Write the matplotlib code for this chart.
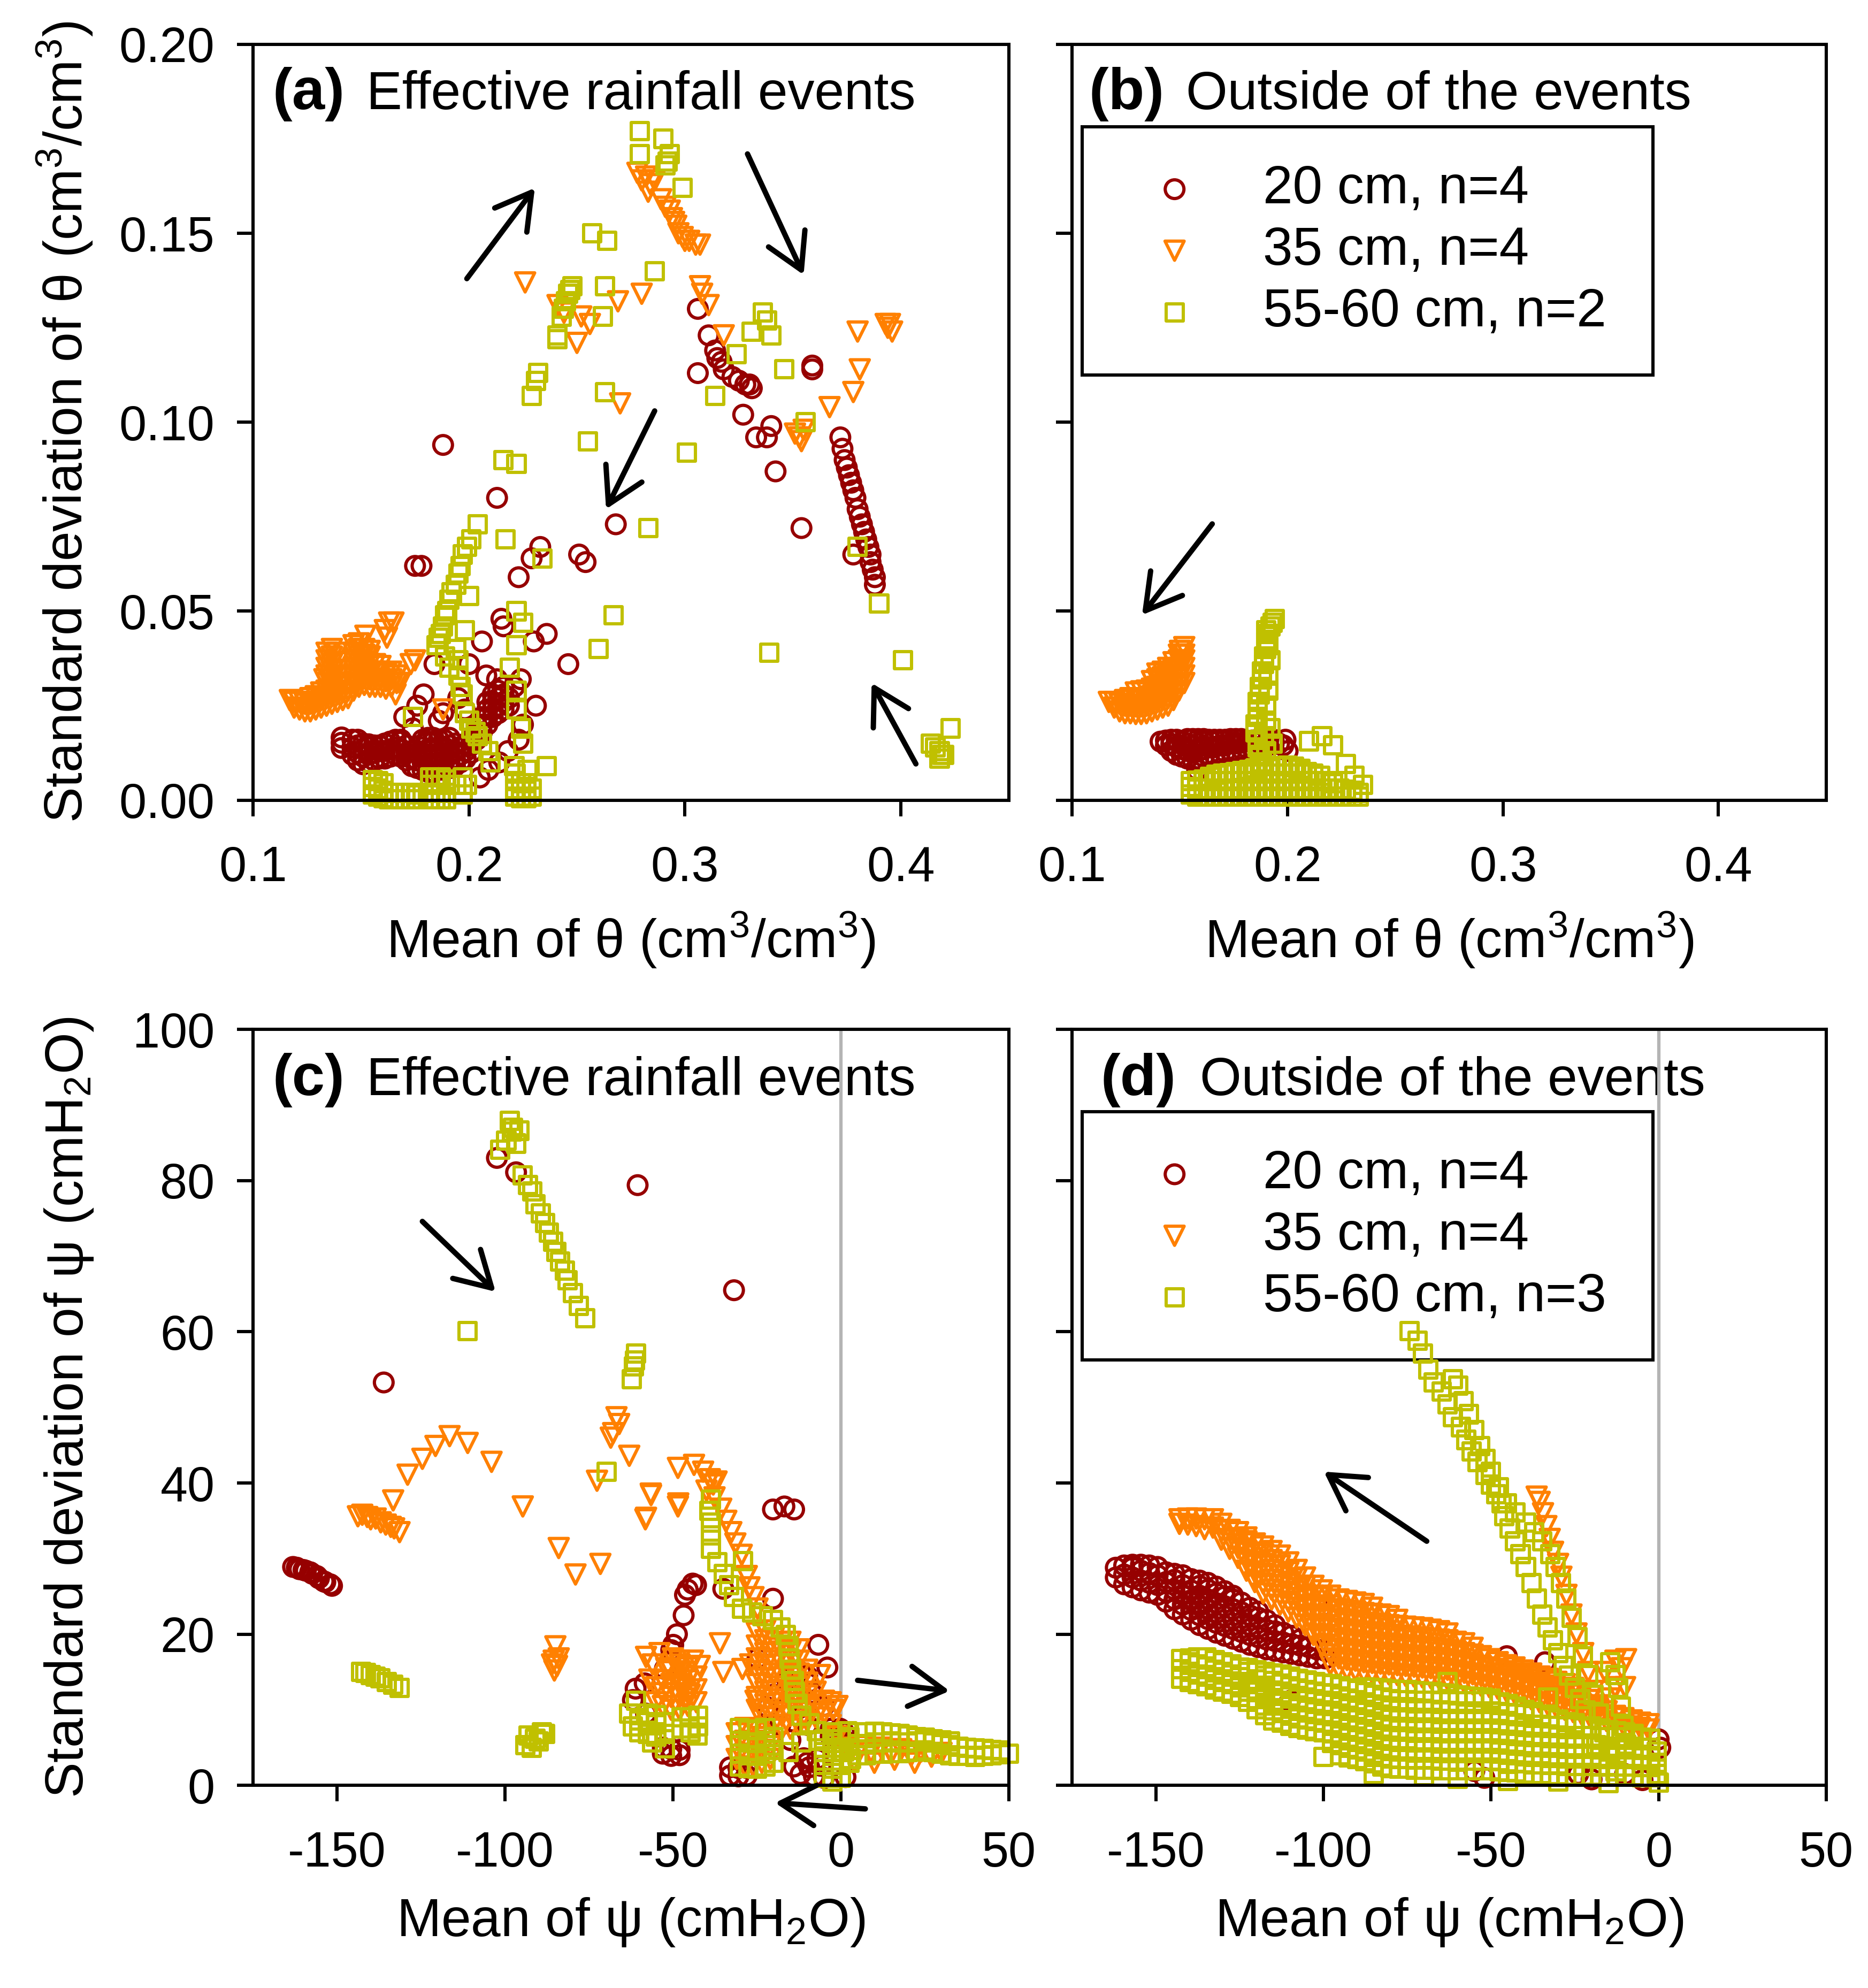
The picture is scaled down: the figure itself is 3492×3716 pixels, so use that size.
import matplotlib
matplotlib.use('Agg')
import matplotlib.pyplot as plt
import numpy as np

plt.rcParams['font.family'] = ['Liberation Sans', 'DejaVu Sans']
plt.rcParams['mathtext.fontset'] = 'custom'
plt.rcParams['mathtext.rm'] = 'Liberation Sans'
plt.rcParams['mathtext.it'] = 'Liberation Sans:italic'
plt.rcParams['mathtext.bf'] = 'Liberation Sans:bold'
plt.rcParams['axes.unicode_minus'] = False

# ---------------- data ----------------
depth_labels = ['20 cm', '35 cm', '55-60 cm']
n_theta = [4, 4, 2]
n_psi = [4, 4, 3]

theta_ticks_x = [0.1, 0.2, 0.3, 0.4]
theta_ticks_y = [0.00, 0.05, 0.10, 0.15, 0.20]
psi_ticks_x = [-150, -100, -50, 0, 50]
psi_ticks_y = [0, 20, 40, 60, 80, 100]

# Sparse points are (x, y); dense clusters are read column by column as (x, [y, y, ...]).

# (a) theta, effective rainfall events
a_20 = [(0.306,0.130),(0.311,0.123),(0.314,0.119),(0.315,0.117),(0.317,0.116),(0.318,0.114),(0.306,0.113),
        (0.322,0.112),(0.325,0.111),(0.328,0.110),(0.330,0.110),(0.331,0.109),(0.359,0.115),(0.359,0.114),
        (0.327,0.102),(0.333,0.096),(0.338,0.096),(0.340,0.099),(0.342,0.087),(0.354,0.072),
        (0.372,0.096),(0.373,0.093),(0.374,0.090),(0.375,0.088),(0.376,0.086),(0.377,0.084),(0.378,0.082),
        (0.379,0.080),(0.380,0.077),(0.381,0.075),(0.382,0.073),(0.383,0.071),(0.384,0.069),(0.385,0.067),
        (0.386,0.065),(0.386,0.063),(0.387,0.061),(0.388,0.059),(0.388,0.057),(0.378,0.065),
        (0.188,0.094),(0.213,0.080),(0.175,0.062),(0.178,0.062),(0.233,0.067),(0.251,0.065),(0.254,0.063),
        (0.268,0.073),(0.229,0.064),(0.223,0.059),(0.215,0.048),(0.216,0.046),(0.230,0.042),(0.236,0.044),
        (0.206,0.042),(0.184,0.036),(0.246,0.036),(0.231,0.025),(0.179,0.028),(0.200,0.036),(0.208,0.033),
        (0.224,0.032),(0.221,0.030),(0.213,0.032),(0.141,0.0166),(0.141,0.0152),(0.141,0.0138),
        (0.170,0.022),(0.174,0.019),(0.186,0.021),(0.188,0.023),(0.176,0.025),(0.195,0.027),
        (0.198,0.024),(0.225,0.020),(0.223,0.016),(0.218,0.013),(0.214,0.010),(0.205,0.006),(0.209,0.008)]
a_20_dense = [(0.146,[0.012,0.014,0.016]),(0.1485,[0.0105,0.0125,0.0145,0.016]),
              (0.151,[0.0095,0.0115,0.0135,0.015]),(0.1535,[0.010,0.012,0.014,0.0148]),
              (0.156,[0.0105,0.0125,0.0145]),(0.1585,[0.011,0.013,0.0145]),(0.161,[0.011,0.013,0.015]),
              (0.1635,[0.0115,0.0135,0.0155]),(0.166,[0.012,0.014,0.016]),(0.1685,[0.0115,0.0135,0.0155,0.016]),
              (0.171,[0.0105,0.0125,0.0145]),(0.1735,[0.009,0.011,0.013]),(0.176,[0.0085,0.0105,0.0125]),
              (0.1785,[0.008,0.010,0.012,0.014,0.016]),(0.181,[0.0075,0.0095,0.0115,0.0135,0.0155,0.0165]),
              (0.1835,[0.0075,0.0095,0.0115,0.0135,0.0155,0.0165]),(0.186,[0.008,0.010,0.012,0.014,0.016]),
              (0.1885,[0.008,0.010,0.012,0.014,0.016]),(0.191,[0.0085,0.0105,0.0125,0.0145,0.0165]),
              (0.1935,[0.009,0.011,0.013,0.015]),(0.196,[0.010,0.012,0.014]),(0.1985,[0.011,0.013,0.015]),
              (0.201,[0.0125,0.0145,0.0165]),(0.2035,[0.016,0.018,0.020]),(0.206,[0.018,0.020,0.022]),
              (0.2085,[0.020,0.022,0.024,0.026]),(0.211,[0.022,0.024,0.026,0.028]),
              (0.2135,[0.023,0.025,0.027,0.029]),(0.216,[0.024,0.026,0.028,0.030]),(0.2185,[0.025,0.027])]

a_35 = [(0.278,0.166),(0.280,0.164),(0.282,0.165),(0.284,0.163),(0.286,0.164),(0.283,0.161),(0.289,0.159),
        (0.291,0.157),(0.293,0.156),(0.294,0.154),(0.295,0.153),(0.296,0.152),(0.297,0.150),(0.299,0.149),
        (0.300,0.148),(0.302,0.148),(0.305,0.147),(0.307,0.147),
        (0.226,0.137),(0.269,0.132),(0.280,0.134),(0.307,0.136),(0.308,0.134),(0.311,0.131),(0.241,0.131),
        (0.244,0.129),(0.252,0.128),(0.256,0.126),(0.250,0.121),(0.318,0.123),(0.380,0.124),(0.393,0.126),
        (0.394,0.125),(0.395,0.126),(0.396,0.124),(0.381,0.114),(0.378,0.108),(0.367,0.104),(0.270,0.105),
        (0.351,0.097),(0.353,0.096),(0.354,0.095),(0.355,0.098),
        (0.161,0.045),(0.163,0.047),(0.165,0.047),(0.162,0.043),(0.173,0.036),(0.175,0.037),(0.133,0.032),
        (0.136,0.032),(0.166,0.028),(0.168,0.031),(0.188,0.024),(0.117,0.0265),(0.152,0.0435)]
a_35_dense = [(0.119,[0.0245,0.026]),(0.1215,[0.024,0.026]),(0.124,[0.0235,0.0255]),
              (0.1265,[0.0235,0.0255,0.027]),(0.129,[0.024,0.026,0.0275]),(0.1315,[0.0245,0.0265,0.0285]),
              (0.134,[0.025,0.027,0.029,0.031,0.033,0.035,0.037,0.039]),
              (0.1365,[0.0255,0.0275,0.0295,0.032,0.034,0.036,0.038,0.040]),
              (0.139,[0.026,0.028,0.030,0.0325,0.0345,0.0365,0.039]),(0.1415,[0.0265,0.0285,0.031,0.033]),
              (0.144,[0.027,0.029,0.031]),(0.1465,[0.029,0.031,0.033,0.035,0.037,0.039,0.041]),
              (0.149,[0.030,0.032,0.034,0.036,0.038,0.040,0.0415]),
              (0.1515,[0.0305,0.0325,0.0345,0.0365,0.0385,0.040]),
              (0.154,[0.030,0.032,0.034,0.036,0.038,0.0395]),(0.1565,[0.030,0.032,0.034,0.036]),
              (0.159,[0.030,0.032,0.034,0.0355]),(0.1615,[0.0295,0.0315,0.0335]),(0.164,[0.030,0.032,0.034]),
              (0.1665,[0.031,0.033])]

a_55 = [(0.279,0.177),(0.290,0.175),(0.293,0.171),(0.292,0.169),(0.291,0.168),(0.279,0.171),(0.299,0.162),
        (0.257,0.150),(0.264,0.148),(0.286,0.140),(0.248,0.136),(0.247,0.135),(0.246,0.134),(0.245,0.132),
        (0.244,0.130),(0.243,0.128),(0.263,0.136),(0.262,0.128),(0.241,0.123),(0.241,0.122),(0.336,0.129),
        (0.338,0.127),(0.340,0.123),(0.331,0.124),(0.324,0.118),(0.346,0.114),(0.232,0.113),(0.231,0.111),
        (0.229,0.107),(0.263,0.108),(0.314,0.107),(0.356,0.100),(0.255,0.095),(0.301,0.092),(0.216,0.090),
        (0.222,0.089),
        (0.204,0.073),(0.201,0.069),(0.199,0.067),(0.197,0.065),(0.196,0.062),(0.195,0.060),(0.194,0.057),
        (0.192,0.055),(0.191,0.053),(0.190,0.050),(0.189,0.049),(0.188,0.046),(0.187,0.044),(0.185,0.041),
        (0.217,0.069),(0.234,0.064),(0.200,0.054),(0.283,0.072),(0.267,0.049),(0.260,0.040),(0.339,0.039),
        (0.401,0.037),(0.390,0.052),(0.380,0.067),(0.222,0.050),(0.225,0.047),(0.222,0.041),(0.219,0.035),
        (0.222,0.029),(0.222,0.024),(0.224,0.019),(0.225,0.015),
        (0.198,0.045),(0.194,0.040),(0.195,0.037),(0.195,0.033),(0.196,0.030),(0.197,0.028),(0.198,0.023),
        (0.200,0.021),(0.201,0.019),(0.203,0.018),(0.204,0.017),(0.206,0.015),(0.209,0.013),(0.210,0.010),
        (0.197,0.006),(0.194,0.004),(0.174,0.022),(0.186,0.043),(0.189,0.038),(0.191,0.035),
        (0.414,0.015),(0.416,0.014),(0.418,0.013),(0.419,0.012),(0.418,0.011),(0.420,0.012),(0.423,0.019),
        (0.236,0.009),(0.227,0.008),(0.221,0.009),(0.197,0.0015),(0.199,0.004)]
a_55_dense = [(0.1555,[0.0015,0.0035,0.0053]),(0.158,[0.001,0.003,0.005]),(0.1605,[0.0005,0.0025,0.0045]),
              (0.163,[0.0003,0.002]),(0.1655,[0.0003,0.002]),(0.168,[0.0003,0.002]),(0.1705,[0.0003,0.002]),
              (0.173,[0.0003,0.002]),(0.1755,[0.0003,0.0015]),(0.182,[0.0003,0.002,0.004,0.006]),
              (0.1845,[0.0003,0.002,0.004,0.006]),(0.187,[0.0003,0.002,0.004,0.006]),
              (0.1895,[0.0003,0.002,0.004,0.0055]),(0.2215,[0.001,0.003,0.005,0.007]),
              (0.224,[0.0005,0.0025,0.0045]),(0.2265,[0.0005,0.0025,0.0045]),(0.229,[0.001,0.003])]

# (b) theta, outside of the events
b_20 = [(0.158,0.008),(0.200,0.013),(0.199,0.016)]
b_20_dense = [(0.141,[0.0155]),(0.1435,[0.0145,0.0158]),(0.146,[0.013,0.0148,0.016]),
              (0.1485,[0.012,0.014,0.016]),(0.151,[0.0115,0.0135,0.0155]),(0.1535,[0.011,0.013,0.015,0.0162]),
              (0.156,[0.0105,0.0125,0.0145,0.0162]),(0.1585,[0.011,0.013,0.015,0.0162]),
              (0.161,[0.0115,0.0135,0.0155,0.0162]),(0.1635,[0.012,0.014,0.016]),(0.166,[0.012,0.014,0.016]),
              (0.1685,[0.0125,0.0145,0.016]),(0.171,[0.0128,0.0145,0.016]),(0.1735,[0.013,0.015,0.0162]),
              (0.176,[0.013,0.015,0.0162]),(0.1785,[0.0135,0.0152,0.0162]),(0.181,[0.0138,0.0155]),
              (0.1835,[0.014,0.0158]),(0.186,[0.014,0.016]),(0.1885,[0.0142,0.016]),(0.191,[0.0145,0.016]),
              (0.1935,[0.0148,0.016]),(0.196,[0.015]),(0.198,[0.0145])]

b_35 = [(0.150,0.0395),(0.152,0.0405),(0.151,0.0385),(0.117,0.026)]
b_35_dense = [(0.1195,[0.0245,0.026]),(0.122,[0.0235,0.0255]),(0.1245,[0.023,0.025,0.0265]),
              (0.127,[0.023,0.025,0.027]),(0.1295,[0.0228,0.0248,0.0268,0.0285]),
              (0.132,[0.0228,0.0248,0.0268,0.0288]),(0.1345,[0.023,0.025,0.027,0.029]),
              (0.137,[0.0235,0.0255,0.0275,0.0295,0.0315]),(0.1395,[0.024,0.026,0.028,0.030,0.032,0.0335]),
              (0.142,[0.0245,0.0265,0.0285,0.0305,0.0325,0.034]),(0.1445,[0.025,0.027,0.029,0.031,0.033,0.035]),
              (0.147,[0.0265,0.0285,0.0305,0.0325,0.0345,0.0365]),
              (0.1495,[0.029,0.031,0.033,0.035,0.037,0.0385]),(0.152,[0.031,0.033,0.035,0.037,0.0385])]

b_55 = [(0.194,0.048),(0.193,0.047),(0.192,0.046),(0.191,0.044),(0.190,0.042),(0.190,0.040),(0.189,0.038),
        (0.189,0.036),(0.188,0.034),(0.188,0.032),(0.187,0.030),(0.187,0.028),(0.186,0.026),(0.186,0.024),
        (0.186,0.022),(0.185,0.020),(0.185,0.018),(0.186,0.016),(0.186,0.014),(0.187,0.012),(0.188,0.010),
        (0.190,0.045),(0.191,0.041),(0.192,0.037),(0.191,0.033),(0.191,0.029),(0.190,0.025),(0.190,0.021),
        (0.189,0.017),(0.190,0.013),(0.193,0.015),(0.192,0.019),
        (0.210,0.0156),(0.216,0.017),(0.221,0.0145),(0.227,0.0096),(0.231,0.0064),(0.235,0.004)]
b_55_dense = [(0.155,[0.0015,0.0035,0.005]),(0.158,[0.001,0.003,0.0052]),(0.161,[0.001,0.003,0.0055]),
              (0.164,[0.001,0.003,0.005,0.0062]),(0.167,[0.001,0.003,0.005,0.0068]),
              (0.170,[0.001,0.003,0.005,0.007]),(0.173,[0.001,0.003,0.005,0.0072]),
              (0.176,[0.001,0.003,0.005,0.0075]),(0.179,[0.001,0.003,0.005,0.0078]),
              (0.182,[0.001,0.003,0.005,0.007,0.008]),(0.185,[0.001,0.003,0.005,0.007,0.0085]),
              (0.188,[0.001,0.003,0.005,0.007,0.009]),(0.191,[0.001,0.003,0.005,0.007,0.009]),
              (0.194,[0.001,0.003,0.005,0.007,0.009]),(0.197,[0.001,0.003,0.005,0.007,0.009]),
              (0.200,[0.001,0.003,0.005,0.007,0.0092]),(0.203,[0.001,0.003,0.005,0.007,0.0088]),
              (0.206,[0.001,0.003,0.005,0.007,0.0083]),(0.209,[0.001,0.003,0.005,0.0075]),
              (0.212,[0.001,0.003,0.005,0.007]),(0.215,[0.001,0.003,0.005,0.0065]),(0.218,[0.001,0.003,0.005]),
              (0.221,[0.001,0.003,0.0045]),(0.224,[0.001,0.003]),(0.227,[0.001,0.0028]),(0.230,[0.001,0.0025]),
              (0.233,[0.001,0.002])]

# (c) psi, effective rainfall events
c_20 = [(-163.1,28.9),(-162,28.8),(-161.2,28.6),(-160,28.5),(-159.3,28.4),(-158,28.2),(-157.4,28.0),
        (-156,27.7),(-155.4,27.4),(-154,27.0),(-153.5,26.9),(-152,26.6),(-151.5,26.4),
        (-136.1,53.3),(-102.4,83.0),(-96.7,81.1),(-60.5,79.4),(-31.8,65.5),(-20.2,36.5),(-16.8,36.9),
        (-13.9,36.5),(-43.1,26.5),(-44.1,26.7),(-45.6,25.9),(-46.4,25.2),(-46.8,22.5),(-48.8,20.0),
        (-49.9,18.6),(-50.5,17.9),(-52.4,15.4),(-35.0,26.0),(-20.2,24.7),(-61.1,12.8),(-58.4,13.5),
        (-61.9,11.3),(-58,9.5),(-6.7,18.6),(-4.0,15.6),(-9.8,13.5),(-8.6,12.2),(-21.8,10.3),(-24.8,16.8),
        (-5.0,10.5),(-0.2,7.5),(1.4,1.1),(-12,15),(-10,14.5),(-14,12.5),
        (-14,2.5),(-12,1.5),(-10,3.0),(-9.4,2.4),(-8,1.2),(-6,2.6),(-5,1.0),(-11,3.6),(-7,3.5),
        (-18,8),(-15,6),(-12,9),(-20,12),(-16,14),(-10,8)]
c_20_dense = [(-53,[4.2,5.0]),(-50.5,[3.9,4.8]),(-48,[4.0,4.7]),(-33,[1.3,2.4]),(-30.5,[1.2,2.3]),
              (-28,[1.3,2.3]),(-1.5,[6.2,7.0]),(1,[6.0,7.0]),(-3,[6.5,7.5])]

c_35 = [(-143.8,35.6),(-142.5,35.8),(-141,35.5),(-140,35.2),(-138.5,35.3),(-137,34.8),(-135.5,34.5),
        (-134,34.2),(-133,34.0),(-131.4,33.5),(-133.3,37.7),(-129.0,41.1),(-124.6,43.2),(-120.7,44.9),
        (-116.5,46.2),(-111.1,45.3),(-104.0,42.8),(-94.7,36.9),(-84.0,31.4),(-79.0,27.9),(-71.6,29.3),
        (-66.8,48.7),(-66.0,47.8),(-67.8,46.6),(-68.5,46.0),(-63.0,43.6),(-56.6,38.6),(-58.2,35.2),
        (-48.5,36.9),(-72.6,40.3),(-48.5,42.0),(-43.7,42.4),(-41,41.5),(-39,40.5),(-38,39.8),(-37,40.2),
        (-40,39.0),(-56.5,38.4),(-48.4,37.3),(-58,35.4),(-37.6,38.1),(-35.6,36.6),(-34.1,35),(-32.6,33.5),
        (-31.4,32),(-29.5,30.5),(-28,27.7),(-27.2,26.2),(-26,24.9),(-24.8,23.4),
        (-85,18.4),(-85.5,16.5),(-86,16),(-84.5,15.8),(-85.3,15.2),(-84,16.8),(-36,18.8),(-35,15.0),
        (-29.3,15.4),(-27,16),(-25.4,11.2),(-6.2,14.6),(-2.3,10),(-10,10.4),
        (-58,17),(-56,16),(-54,17.5),(-52,15.5),(-50,16.8),(-48,16),(-46,15),(-44,16.5),(-42,15.8),
        (-57,14),(-55,13),(-47,13),(-45,12),(-55,11),(-46,11.5),
        (1,5),(3,4.5),(6,5.2),(9,4.4),(12,5.0),(15,4.2),(18,4.8),(21,4.0),(24,4.5),(27,3.8),(30,4.3),
        (4,3.2),(10,3.0),(16,3.4),(22,3.0),(-3,11),(-1,10.5),(-1,6.5),(-3,8)]
c_35_dense = [(-53,[10.5,12.2,13.9]),(-50.5,[10.0,11.7,13.4,15.1]),(-48,[10.0,11.7,13.4,15.1,16.5]),
              (-45.5,[10.5,12.2,13.9,15.6]),(-43,[11.0,12.7,14.4]),
              (-25,[10.0,11.7,13.4,15.1,16.8,18.5,20.2]),(-22.5,[9.0,10.7,12.4,14.1,15.8,17.5,19.2,20.5]),
              (-20,[8.0,9.7,11.4,13.1,14.8,16.5,18.2,19.5]),(-17.5,[7.5,9.2,10.9,12.6,14.3,16.0,17.7,19.0]),
              (-15,[7.5,9.2,10.9,12.6,14.3,16.0,17.7,19.0]),(-12.5,[8.0,9.7,11.4,13.1,14.8,16.5,18.0]),
              (-10,[8.5,10.2,11.9,13.6,15.3]),(-7.5,[9.0,10.7,12.4]),(-5,[9.5,11.2]),
              (-31,[3.5,5.2,6.9]),(-28.5,[2.5,4.2,5.9,7.6]),(-26,[2.5,4.2,5.9,7.6]),(-23.5,[3.0,4.7,6.4]),
              (-21,[3.5,5.2])]

c_55 = [(-98.6,87.9),(-97.6,87.0),(-95.7,86.6),(-99.6,85.3),(-101.5,84.1),(-96.7,84.9),(-98,86.5),
        (-94.7,80.7),(-93.2,79.4),(-91.9,78.6),(-90.9,76.9),(-89.4,75.7),(-88.0,74.4),(-87.0,73.1),
        (-85.7,71.9),(-84.7,70.6),(-83.6,69.3),(-82.2,68.1),(-81.3,66.8),(-79.7,65.1),(-78.0,63.4),
        (-76.1,61.8),(-111.1,60.1),(-61.0,57.1),(-61.3,56.2),(-61.6,55.4),(-62.2,53.7),(-69.7,41.5),
        (-38.7,37.8),(-39.1,36.3),(-38.7,34.8),(-38.7,33.1),(-38.7,31.3),(-36.8,29.5),(-34.9,28),
        (-33.3,26.5),(-31.8,24.9),(-29.1,29.7),(-29.5,23.4),(-26.4,22.9),(-23.3,22.4),(-20.2,21.9),
        (-17.9,20.9),(-16.4,19.9),(-15.6,18.4),(-15.2,16.8),(-14.8,15.3),(-14,13.8),(-13.7,12.3),
        (-12.9,10.8),(-11.7,9.2),(-9.4,8.2),(-7.1,7.2),(-6.3,5.9),(-11.7,5.7),(-15.6,4.4),
        (-142.9,15.0),(-141.5,14.9),(-140.0,14.6),(-138.5,14.4),(-137.1,14.2),(-135.2,13.7),(-133.3,13.3),
        (-131.4,12.9),(-93,6.6),(-91,6.2),(-89,7.0),(-94,5.3),(-92,5.0),(-90,5.8),(-88,6.8),
        (-61.0,11.2),(-62.0,7.8),(-63,9.5),(-56.2,5.7),(-52.4,4.9),(-42.7,6.6),(-44.7,7.0),
        (1,4.5),(-1,5.0),(3,3.5),(2,7.2)]
c_55_dense = [(-60,[7.0,8.6]),(-57.5,[6.8,8.4,9.5]),(-55,[6.5,8.1,9.3]),(-52.5,[6.8,8.4]),
              (-47.5,[7.5,9.0]),(-45,[7.5,9.0]),(-42.5,[7.8,9.2]),
              (-30,[2.5,4.2,5.9,7.6]),(-27.5,[2.3,4.0,5.7,7.4]),(-25,[2.2,3.9,5.6,7.3]),
              (-22.5,[2.5,4.2,5.9,7.6]),(-20,[3.0,4.7,6.4]),
              (-5,[1.0,2.7,4.4,6.1]),(-2.5,[0.5,2.2,3.9,5.6,7.0]),(0,[1.0,2.7,4.4,6.1]),(2.5,[3.0,4.7,6.4]),
              (5,[4.0,5.5,7.0]),(7.5,[4.0,5.5,7.0]),(10,[4.2,5.7,7.1]),(12.5,[4.2,5.7,7.0]),
              (15,[4.3,5.8,6.9]),(17.5,[4.3,5.7,6.8]),(20,[4.4,5.7,6.6]),(22.5,[4.5,5.8,6.4]),
              (25,[4.6,5.9,6.3]),(27.5,[4.4,5.7,6.1]),(30,[4.2,5.5,6.0]),(32.5,[4.0,5.3,5.8]),
              (35,[3.9,5.1]),(37.5,[3.9,5.0]),(40,[3.8,4.9]),(42.5,[3.9,4.8]),(45,[4.0,4.7]),
              (47.5,[4.1,4.6]),(50,[4.2])]

# (d) psi, outside of the events
d_20 = [(-45.3,17.1),(-33.9,16.3),(-55,1.9),(0,6.1),(0.5,5.0),(-4.8,0.7),(-24,1.5),(-110,11.2),
        (-101,23.4),(-52,1.0),(-20,0.8),(-10,1.5)]
d_20_dense = [(-162,[27.5,28.8]),(-159.5,[26.6,27.9,29.1]),(-157,[26.2,27.5,28.8,29.2]),
              (-154.5,[25.8,27.1,28.4,29.2]),(-152,[25.5,26.8,28.1,29.1]),(-149.5,[25.2,26.5,27.8,28.9]),
              (-147,[24.3,25.6,26.9,28.2]),(-144.5,[23.3,24.6,25.9,27.2,28.0]),
              (-142,[22.6,23.9,25.2,26.5,27.8]),(-139.5,[21.9,23.2,24.5,25.8,27.3]),
              (-137,[21.2,22.5,23.8,25.1,26.4,27.1]),(-134.5,[20.7,22.0,23.3,24.6,25.9,26.8]),
              (-132,[20.2,21.5,22.8,24.1,25.4,26.3]),(-129.5,[19.8,21.1,22.4,23.7,25.0,25.7]),
              (-127,[19.4,20.7,22.0,23.3,24.6,25.1]),(-124.5,[19.0,20.3,21.6,22.9,24.2]),
              (-122,[18.6,19.9,21.2,22.5,23.5]),(-119.5,[18.3,19.6,20.9,22.2,23.0]),
              (-117,[18.0,19.3,20.6,21.9]),(-114.5,[17.8,19.1,20.4,21.2]),(-112,[17.6,18.9,20.2]),
              (-109.5,[17.4,18.7,19.8]),(-107,[17.2,18.5,19.3]),(-104.5,[17.0,18.3]),(-102,[16.8,18.0]),
              (-99.5,[16.8,17.8])]

d_35 = [(-36.4,38.2),(-35.5,37.5),(-34.5,36.0),(-33.5,34.3),(-32.5,32.6),(-31.5,30.9),(-30.0,29.3),
        (-29.0,27.6),(-27.5,25.2),(-26.0,22.6),(-24.5,20.1),(-22.5,17.5),(-21,15.0),(-19.5,12.5),(-18,9.9),
        (-9.7,16.7),(-12.9,16.5),(-11,15.5),(-10,13),(-13,13),(-16,15),(-14.5,11.5)]
d_35_dense = [(-143,[34.6,35.2]),(-140.5,[34.5,35.3]),(-138,[34.3,35.3]),(-135.5,[33.9,35.2]),
              (-133,[34.1,35.2]),(-130.5,[32.5,33.7,34.6]),(-128,[31.3,32.6,33.8]),
              (-125.5,[30.1,31.4,32.7,33.5]),(-123,[28.4,29.7,31.0,32.3,32.8]),
              (-120.5,[26.9,28.2,29.5,30.8,32.0]),(-118,[25.4,26.7,28.0,29.3,30.6,31.6]),
              (-115.5,[24.6,25.9,27.2,28.5,29.8,31.0]),(-113,[23.9,25.2,26.5,27.8,29.1,30.4]),
              (-110.5,[23.0,24.3,25.6,26.9,28.2,29.5]),(-108,[22.2,23.5,24.8,26.1,27.4,28.5]),
              (-105.5,[21.2,22.5,23.8,25.1,26.4,27.5]),(-103,[19.9,21.2,22.5,23.8,25.1,26.4]),
              (-100.5,[18.4,19.7,21.0,22.3,23.6,24.9,25.8]),(-98,[16.0,17.3,18.6,19.9,21.2,22.5,23.8,25.1]),
              (-95.5,[15.5,16.8,18.1,19.4,20.7,22.0,23.3,24.6]),(-93,[15.3,16.6,17.9,19.2,20.5,21.8,23.1,24.4]),
              (-90.5,[15.2,16.5,17.8,19.1,20.4,21.7,23.0,24.2]),(-88,[15.0,16.3,17.6,18.9,20.2,21.5,22.8,24.0]),
              (-85.5,[14.9,16.2,17.5,18.8,20.1,21.4,22.7,23.5]),(-83,[14.8,16.1,17.4,18.7,20.0,21.3,22.6]),
              (-80.5,[14.7,16.0,17.3,18.6,19.9,21.2,22.4]),(-78,[14.6,15.9,17.2,18.5,19.8,21.1,21.9]),
              (-75.5,[14.5,15.8,17.1,18.4,19.7,21.0]),(-73,[14.4,15.7,17.0,18.3,19.6,20.9]),
              (-70.5,[14.3,15.6,16.9,18.2,19.5,20.8]),(-68,[14.2,15.5,16.8,18.1,19.4,20.6]),
              (-65.5,[14.1,15.4,16.7,18.0,19.3,20.4]),(-63,[14.0,15.3,16.6,17.9,19.2,20.1]),
              (-60.5,[13.8,15.1,16.4,17.7,19.0]),(-58,[13.6,14.9,16.2,17.5,18.8]),
              (-55.5,[13.4,14.7,16.0,17.3,18.2]),(-53,[13.2,14.5,15.8,17.1]),(-50.5,[13.0,14.3,15.6,16.7]),
              (-48,[12.8,14.1,15.4,16.3]),(-45.5,[12.5,13.8,15.1,15.9]),(-43,[12.2,13.5,14.8,15.6]),
              (-40.5,[11.8,13.1,14.4,15.2]),(-38,[11.4,12.7,14.0,14.8]),(-35.5,[11.0,12.3,13.6,14.4]),
              (-33,[10.6,11.9,13.2,14.1]),(-30.5,[10.3,11.6,12.9,13.7]),(-28,[10.0,11.3,12.6,13.4]),
              (-25.5,[9.7,11.0,12.3,12.9]),(-23,[9.4,10.7,12.0]),(-20.5,[9.1,10.4,11.3]),(-18,[8.8,10.1,10.6]),
              (-15.5,[8.5,9.8]),(-13,[8.2,9.2]),(-10.5,[8.0,8.9]),(-8,[7.8,8.6]),(-5.5,[7.6,8.3]),
              (-3,[7.4,8.1])]

d_55 = [(-74.3,60.1),(-71.9,58.8),(-70.3,57.1),(-68.7,55.0),(-67.1,53.3),(-64.7,52.1),(-63.0,50.4),
        (-61.4,48.7),(-59.0,47.4),(-57.4,45.7),(-55.8,44.2),(-54.1,42.8),(-51.7,41.1),(-50.1,39.8),
        (-48.5,38.5),(-46.9,37.3),(-46.0,35.6),(-44.4,34.0),(-42.8,32.3),(-41.2,30.6),(-39.6,28.9),
        (-38.0,26.8),(-36.4,24.7),(-34.8,22.6),(-33.1,20.9),(-31.5,19.2),(-29.9,17.5),(-28.3,15.8),
        (-26.7,14.5),(-25.0,12.9),(-23.4,11.4),(-21.8,9.9),(-20.2,7.8),(-18.6,5.3),
        (-61.4,53.7),(-59.8,52.9),(-58.2,50.8),(-56.6,49.1),(-55.0,47.0),(-53.3,44.9),(-51.7,43.2),
        (-50.1,41.5),(-47.7,39.4),(-45.3,37.3),(-42.8,36.1),(-39.6,34.8),(-37.2,33.5),(-34.8,32.3),
        (-32.3,30.6),(-30.7,28.9),(-29.1,26.8),(-27.5,24.7),(-25.9,22.2),(-24.2,19.6),(-22.6,17.1),
        (-21.0,14.6),(-19.4,12.0),(-17.8,9.5),(-16.2,7.0),(-14.5,4.5),(-12.9,1.9),
        (-14.5,16.3),(-12.9,14.6),(-12.1,12.9),(-11.3,10.4),(-10.5,7.9),(-9.7,5.4),
        (-63,13.7),(-33,11.6),(-60,0.9),(-45,0.6),(-30,0.5),(-15,0.3),(0,0.4),(-100,3.8),(-85,1.5),(-70,1.2)]
d_55_dense = [(-142.5,[14.1,15.4,16.7]),(-140,[13.7,15.0,16.3,16.8]),(-137.5,[13.4,14.7,16.0,16.9]),
              (-135,[13.1,14.4,15.7,16.9]),(-132.5,[12.7,14.0,15.3,16.6]),(-130,[12.4,13.7,15.0,16.3]),
              (-127.5,[12.1,13.4,14.7,16.0]),(-125,[11.7,13.0,14.3,15.6]),(-122.5,[11.1,12.4,13.7,15.0,15.5]),
              (-120,[10.1,11.4,12.7,14.0,15.2]),(-117.5,[9.3,10.6,11.9,13.2,14.5,15.0]),
              (-115,[8.6,9.9,11.2,12.5,13.8,14.8]),(-112.5,[8.3,9.6,10.9,12.2,13.5,14.7]),
              (-110,[7.9,9.2,10.5,11.8,13.1,14.4]),(-107.5,[7.6,8.9,10.2,11.5,12.8,14.1]),
              (-105,[7.4,8.7,10.0,11.3,12.6,13.9]),(-102.5,[7.2,8.5,9.8,11.1,12.4,13.7]),
              (-100,[7.0,8.3,9.6,10.9,12.2,13.5]),(-97.5,[5.6,6.9,8.2,9.5,10.8,12.1,13.4]),
              (-95,[4.0,5.3,6.6,7.9,9.2,10.5,11.8,13.1]),(-92.5,[3.7,5.0,6.3,7.6,8.9,10.2,11.5,12.8]),
              (-90,[3.5,4.8,6.1,7.4,8.7,10.0,11.3,12.6]),(-87.5,[3.2,4.5,5.8,7.1,8.4,9.7,11.0,12.3,13.0]),
              (-85,[2.9,4.2,5.5,6.8,8.1,9.4,10.7,12.0,12.9]),(-82.5,[2.5,3.8,5.1,6.4,7.7,9.0,10.3,11.6,12.8]),
              (-80,[2.3,3.6,4.9,6.2,7.5,8.8,10.1,11.4,12.7]),(-77.5,[2.2,3.5,4.8,6.1,7.4,8.7,10.0,11.3,12.6]),
              (-75,[2.2,3.5,4.8,6.1,7.4,8.7,10.0,11.3,12.6]),(-72.5,[2.1,3.4,4.7,6.0,7.3,8.6,9.9,11.2,12.5]),
              (-70,[2.1,3.4,4.7,6.0,7.3,8.6,9.9,11.2,12.4]),(-67.5,[2.1,3.4,4.7,6.0,7.3,8.6,9.9,11.2,12.3]),
              (-65,[2.0,3.3,4.6,5.9,7.2,8.5,9.8,11.1,12.2]),(-62.5,[2.0,3.3,4.6,5.9,7.2,8.5,9.8,11.1,12.1]),
              (-60,[2.0,3.3,4.6,5.9,7.2,8.5,9.8,11.1,11.9]),(-57.5,[2.0,3.3,4.6,5.9,7.2,8.5,9.8,11.1,11.8]),
              (-55,[2.0,3.3,4.6,5.9,7.2,8.5,9.8,11.1,11.7]),(-52.5,[2.0,3.3,4.6,5.9,7.2,8.5,9.8,11.1,11.6]),
              (-50,[2.0,3.3,4.6,5.9,7.2,8.5,9.8,11.1,11.5]),(-47.5,[1.9,3.2,4.5,5.8,7.1,8.4,9.7,11.0]),
              (-45,[1.8,3.1,4.4,5.7,7.0,8.3,9.6,10.8]),(-42.5,[1.7,3.0,4.3,5.6,6.9,8.2,9.5,10.4]),
              (-40,[1.6,2.9,4.2,5.5,6.8,8.1,9.4,10.0]),(-37.5,[1.5,2.8,4.1,5.4,6.7,8.0,9.3,9.7]),
              (-35,[1.5,2.8,4.1,5.4,6.7,8.0,9.3]),(-32.5,[1.4,2.7,4.0,5.3,6.6,7.9,9.0]),
              (-30,[1.4,2.7,4.0,5.3,6.6,7.9,8.7]),(-27.5,[1.3,2.6,3.9,5.2,6.5,7.8,8.4]),
              (-25,[1.3,2.6,3.9,5.2,6.5,7.8,8.2]),(-22.5,[1.3,2.6,3.9,5.2,6.5,7.8]),
              (-20,[1.3,2.6,3.9,5.2,6.5,7.7]),(-17.5,[1.2,2.5,3.8,5.1,6.4,7.5]),
              (-15,[1.2,2.5,3.8,5.1,6.4,7.3]),(-12.5,[1.2,2.5,3.8,5.1,6.4,7.2]),
              (-10,[1.2,2.5,3.8,5.1,6.4,7.0]),(-7.5,[1.2,2.5,3.8,5.1,6.4,6.8]),(-5,[1.1,2.4,3.7,5.0,6.3]),
              (-2.5,[1.1,2.4,3.7,5.0,6.2]),(-0.5,[1.5,3.0,4.5])]

# arrows (tail, head) in data coordinates
arrows_a = [((0.199,0.138),(0.2305,0.162)), ((0.329,0.171),(0.355,0.139)),
            ((0.286,0.103),(0.2635,0.077)), ((0.407,0.0096),(0.3865,0.031))]
arrows_b = [((0.165,0.0731),(0.1324,0.049))]
arrows_c = [((-124.6,74.6),(-102.8,65.3)), ((5.0,13.9),(32.4,12.5)), ((7.3,-3.1),(-19.6,-2.3))]
arrows_d = [((-69.2,32.3),(-99.9,41.5))]

# ---------------- style ----------------
colors = ['#960000', '#FF8000', '#C0C000']
markers = ['o', 'v', 's']
msizes = [8.4, 8.6, 7.7]
FS_TICK = 22
FS_LAB = 24
FS_TITLE = 24
FS_LETTER = 26.5
FS_LEG = 24

fig = plt.figure(figsize=(3492/300, 3716/300), dpi=300)
ax_a = fig.add_axes([0.1355, 0.5975, 0.4045, 0.3802])
ax_b = fig.add_axes([0.5740, 0.5975, 0.4036, 0.3802])
ax_c = fig.add_axes([0.1355, 0.1019, 0.4045, 0.3803])
ax_d = fig.add_axes([0.5740, 0.1019, 0.4036, 0.3803])


def combine(sparse, dense):
    pts = list(sparse)
    for x, ys in dense:
        pts.extend((x, y) for y in ys)
    return np.array(pts)


def draw_series(ax, sets, labels):
    handles = []
    for data, col, mk, ms, lab in zip(sets, colors, markers, msizes, labels):
        h = ax.scatter(data[:, 0], data[:, 1], s=ms**2, marker=mk, facecolors='none',
                       edgecolors=col, linewidths=1.45, clip_on=False, label=lab, zorder=6)
        handles.append(h)
    return handles


def style_axes(ax, xlim, ylim, xt, yt, xfmt, yfmt, ylabels=True):
    ax.set_xlim(*xlim)
    ax.set_ylim(*ylim)
    ax.set_xticks(xt)
    ax.set_xticklabels([xfmt(v) for v in xt])
    ax.set_yticks(yt)
    if ylabels:
        ax.set_yticklabels([yfmt(v) for v in yt])
    else:
        ax.set_yticklabels([])
    for sp in ax.spines.values():
        sp.set_linewidth(1.45)
        sp.set_color('black')
        sp.set_zorder(7)
    ax.tick_params(axis='both', direction='out', length=7.2, width=1.45, labelsize=FS_TICK, color='black')
    ax.tick_params(axis='x', pad=13)
    ax.tick_params(axis='y', pad=10)


def add_arrows(ax, arrows):
    for tail, head in arrows:
        ax.annotate('', xy=head, xytext=tail, xycoords='data', textcoords='data',
                    annotation_clip=False,
                    arrowprops=dict(arrowstyle='->,head_length=0.39,head_width=0.225', lw=2.4,
                                    color='black', shrinkA=0, shrinkB=0, mutation_scale=40),
                    zorder=8)


def add_title(ax, letter, text, xl, xt, yb):
    ax.text(xl, yb, letter, transform=ax.transAxes, fontsize=FS_LETTER, fontweight='bold',
            va='baseline', ha='left', zorder=1.5)
    ax.text(xt, yb, text, transform=ax.transAxes, fontsize=FS_TITLE, va='baseline', ha='left', zorder=1.5)


def add_legend(ax, handles, ns):
    labels = [f'{d}, n={n}' for d, n in zip(depth_labels, ns)]
    leg = ax.legend(handles, labels, loc='upper left', bbox_to_anchor=(0.013, 0.573, 0.757, 0.318),
                    mode='expand', bbox_transform=ax.transAxes, borderaxespad=0, frameon=True,
                    fancybox=False, edgecolor='black', framealpha=1, fontsize=FS_LEG, scatterpoints=1,
                    borderpad=0.7, handlelength=2.06, handletextpad=0.62, labelspacing=0.21)
    leg.get_frame().set_linewidth(1.45)
    leg.set_zorder(5)


fmt2 = lambda v: f'{v:.2f}'
fmt1 = lambda v: f'{v:.1f}'
fmt0 = lambda v: f'{v:d}'

theta_lab_x = 'Mean of θ (cm$^\\mathregular{3}$/cm$^\\mathregular{3}$)'
theta_lab_y = 'Standard deviation of θ (cm$^\\mathregular{3}$/cm$^\\mathregular{3}$)'
psi_lab_x = 'Mean of ψ (cmH$_\\mathregular{2}$O)'
psi_lab_y = 'Standard deviation of ψ (cmH$_\\mathregular{2}$O)'

# panel a
draw_series(ax_a, [combine(a_20, a_20_dense), combine(a_35, a_35_dense), combine(a_55, a_55_dense)],
            depth_labels)
style_axes(ax_a, (0.1, 0.45), (0, 0.2), theta_ticks_x, theta_ticks_y, fmt1, fmt2)
add_arrows(ax_a, arrows_a)
add_title(ax_a, '(a)', 'Effective rainfall events', 0.026, 0.150, 0.9146)
ax_a.set_xlabel(theta_lab_x, fontsize=FS_LAB)
ax_a.set_ylabel(theta_lab_y, fontsize=FS_LAB)

# panel b
hb = draw_series(ax_b, [combine(b_20, b_20_dense), combine(b_35, b_35_dense), combine(b_55, b_55_dense)],
                 depth_labels)
style_axes(ax_b, (0.1, 0.45), (0, 0.2), theta_ticks_x, theta_ticks_y, fmt1, fmt2, ylabels=False)
add_arrows(ax_b, arrows_b)
add_title(ax_b, '(b)', 'Outside of the events', 0.022, 0.151, 0.9146)
add_legend(ax_b, hb, n_theta)
ax_b.set_xlabel(theta_lab_x, fontsize=FS_LAB)

# panel c
ax_c.axvline(0, color='#b4b4b4', lw=1.5, zorder=2)
draw_series(ax_c, [combine(c_20, c_20_dense), combine(c_35, c_35_dense), combine(c_55, c_55_dense)],
            depth_labels)
style_axes(ax_c, (-175, 50), (0, 100), psi_ticks_x, psi_ticks_y, fmt0, fmt0)
add_arrows(ax_c, arrows_c)
add_title(ax_c, '(c)', 'Effective rainfall events', 0.026, 0.150, 0.913)
ax_c.set_xlabel(psi_lab_x, fontsize=FS_LAB)
ax_c.set_ylabel(psi_lab_y, fontsize=FS_LAB)

# panel d
ax_d.axvline(0, color='#b4b4b4', lw=1.5, zorder=2)
hd = draw_series(ax_d, [combine(d_20, d_20_dense), combine(d_35, d_35_dense), combine(d_55, d_55_dense)],
                 depth_labels)
style_axes(ax_d, (-175, 50), (0, 100), psi_ticks_x, psi_ticks_y, fmt0, fmt0, ylabels=False)
add_arrows(ax_d, arrows_d)
add_title(ax_d, '(d)', 'Outside of the events', 0.038, 0.169, 0.913)
add_legend(ax_d, hd, n_psi)
ax_d.set_xlabel(psi_lab_x, fontsize=FS_LAB)

for ax in (ax_a, ax_b, ax_c, ax_d):
    ax.xaxis.set_label_coords(0.5, -0.146)
for ax in (ax_a, ax_c):
    ax.yaxis.set_label_coords(-0.209, 0.5)

fig.savefig('out.png', dpi=300)
